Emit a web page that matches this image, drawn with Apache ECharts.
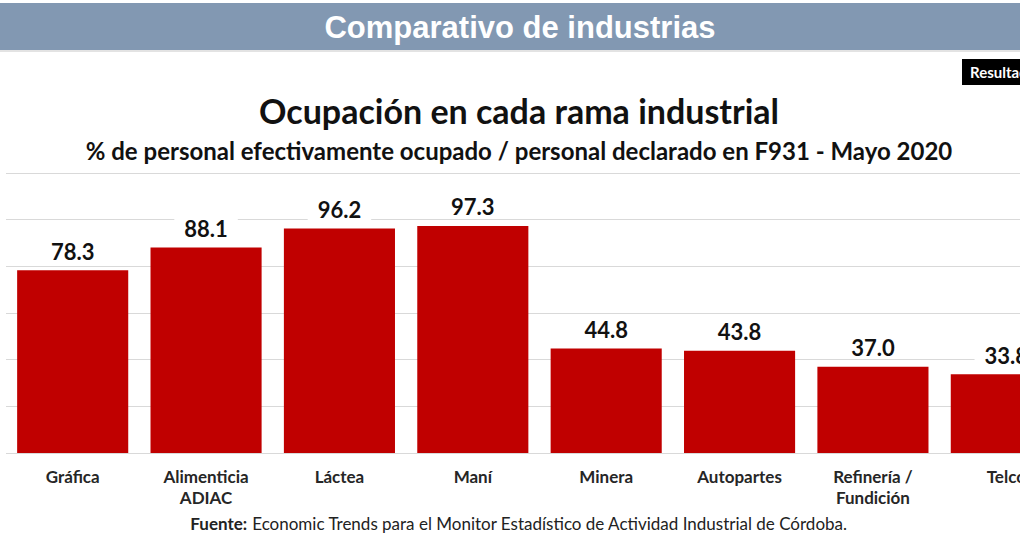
<!DOCTYPE html>
<html>
<head>
<meta charset="utf-8">
<script src="https://cdn.jsdelivr.net/npm/echarts@6/dist/echarts.min.js"></script>
<style>
html,body{margin:0;padding:0;overflow:hidden;background:#fff;width:1020px;height:560px;}
#c{width:1080px;height:560px;}
</style>
</head>
<body>
<div id="c"></div>
<script>
var categories = ['Gráfica', 'Alimenticia\nADIAC', 'Láctea', 'Maní', 'Minera', 'Autopartes', 'Refinería /\nFundición', 'Telco'];
var values = [78.3, 88.1, 96.2, 97.3, 44.8, 43.8, 37.0, 33.8];
var headerText = 'Comparativo de industrias';
var titleText = 'Ocupación en cada rama industrial';
var subtitleText = '% de personal efectivamente ocupado / personal declarado en F931 - Mayo 2020';
var sourceBold = 'Fuente:';
var sourceText = ' Economic Trends para el Monitor Estadístico de Actividad Industrial de Córdoba.';
var badgeText = 'Resultados';

var chart = echarts.init(document.getElementById('c'), null, {renderer: 'svg'});
var font = 'Lato, "Open Sans", sans-serif';
chart.setOption({
  animation: false,
  grid: {left: 6, right: 7, top: 173, bottom: 107, containLabel: false},
  xAxis: {
    type: 'category',
    data: categories,
    axisLine: {show: false},
    axisTick: {show: false},
    axisLabel: {
      color: '#262626', fontFamily: font, fontWeight: 'bold', fontSize: 17,
      lineHeight: 21, margin: 13, interval: 0
    }
  },
  yAxis: {
    type: 'value', min: 0, max: 120, interval: 20,
    axisLabel: {show: false}, axisLine: {show: false}, axisTick: {show: false},
    splitLine: {lineStyle: {color: '#d9d9d9', width: 1}}
  },
  series: [{
    type: 'bar',
    data: values,
    barCategoryGap: '16.7%',
    itemStyle: {color: '#c00000'},
    label: {
      show: true, position: 'top', distance: 8,
      color: '#111', fontFamily: font, fontWeight: 'bold', fontSize: 22,
      backgroundColor: '#fff', padding: [0, 10, 0, 10],
      formatter: function (p) { return p.value.toFixed(1); }
    }
  }],
  graphic: [
    {type: 'rect', left: 0, top: 3, shape: {width: 1080, height: 47}, style: {fill: '#8298b2'}},
    {type: 'rect', left: 0, top: 50, shape: {width: 1080, height: 2}, style: {fill: '#e3e3e3'}},
    {type: 'text', x: 520, y: 27, style: {text: headerText, fill: '#fff', font: 'bold 31px "Liberation Sans", Arial, sans-serif', textAlign: 'center', textVerticalAlign: 'middle'}},
    {type: 'rect', left: 962, top: 59, shape: {width: 100, height: 26}, style: {fill: '#000'}},
    {type: 'text', x: 970, y: 72, style: {text: badgeText, fill: '#fff', font: 'bold 15px ' + font, textAlign: 'left', textVerticalAlign: 'middle'}},
    {type: 'text', x: 519, y: 110, style: {text: titleText, fill: '#111', font: 'bold 34px ' + font, textAlign: 'center', textVerticalAlign: 'middle'}},
    {type: 'text', x: 519, y: 150, style: {text: subtitleText, fill: '#111', font: 'bold 24px ' + font, textAlign: 'center', textVerticalAlign: 'middle'}},
    {type: 'text', x: 519, y: 523, style: {
      text: '{b|' + sourceBold + '}{r|' + sourceText + '}', textAlign: 'center', textVerticalAlign: 'middle',
      rich: {
        b: {fontFamily: font, fontWeight: 'bold', fontSize: 17, fill: '#222'},
        r: {fontFamily: font, fontWeight: 'normal', fontSize: 17, fill: '#222'}
      }
    }}
  ]
});
</script>
</body>
</html>
